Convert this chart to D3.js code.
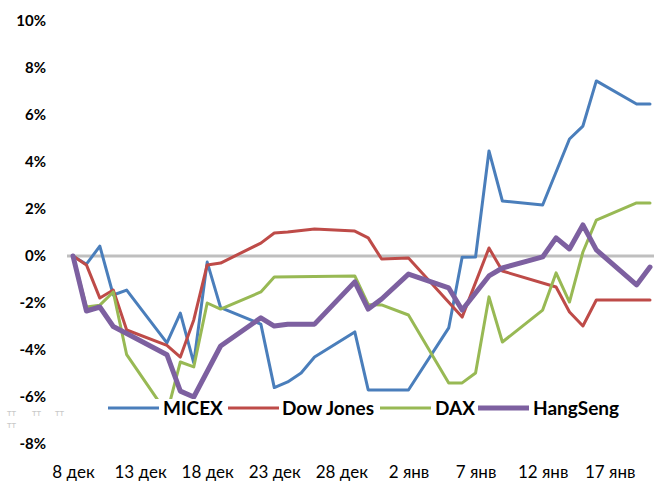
<!DOCTYPE html>
<html><head><meta charset="utf-8">
<script src="https://cdn.jsdelivr.net/npm/d3@7"></script>
<style>body{margin:0;background:#fff}svg{display:block}</style>
</head><body>
<svg id="c" width="654" height="484"></svg>
<script>
const seriesNames = ["MICEX", "Dow Jones", "DAX", "HangSeng"];
const seriesColors = ["#4A7EBB", "#BE4B48", "#98B954", "#7D60A0"];

const micexDates = ["2008-12-08","2008-12-09","2008-12-10","2008-12-11","2008-12-12","2008-12-15","2008-12-16","2008-12-17","2008-12-18","2008-12-19","2008-12-22","2008-12-23","2008-12-24","2008-12-25","2008-12-26","2008-12-29","2008-12-30","2008-12-31","2009-01-02","2009-01-05","2009-01-06","2009-01-07","2009-01-08","2009-01-09","2009-01-12","2009-01-14","2009-01-15","2009-01-16","2009-01-19","2009-01-20"];
const micexValues = [0,-0.35,0.42,-1.66,-1.45,-3.7,-2.43,-4.55,-0.26,-2.2,-2.9,-5.6,-5.36,-4.98,-4.3,-3.23,-5.7,-5.7,-5.7,-3.06,-0.05,-0.04,4.47,2.34,2.17,4.98,5.53,7.45,6.47,6.47];

const dowDates = ["2008-12-08","2008-12-09","2008-12-10","2008-12-11","2008-12-12","2008-12-15","2008-12-16","2008-12-17","2008-12-18","2008-12-19","2008-12-22","2008-12-23","2008-12-24","2008-12-26","2008-12-29","2008-12-30","2008-12-31","2009-01-02","2009-01-06","2009-01-08","2009-01-09","2009-01-13","2009-01-14","2009-01-15","2009-01-16","2009-01-19","2009-01-20"];
const dowValues = [0,-0.38,-1.79,-1.45,-3.15,-3.8,-4.3,-2.72,-0.38,-0.3,0.55,0.98,1.02,1.15,1.06,0.77,-0.13,-0.09,-2.6,0.34,-0.64,-1.32,-2.38,-2.98,-1.87,-1.87,-1.87];

const daxDates = ["2008-12-08","2008-12-09","2008-12-10","2008-12-11","2008-12-12","2008-12-15","2008-12-16","2008-12-17","2008-12-18","2008-12-19","2008-12-22","2008-12-23","2008-12-29","2008-12-30","2008-12-31","2009-01-02","2009-01-05","2009-01-06","2009-01-07","2009-01-08","2009-01-09","2009-01-12","2009-01-13","2009-01-14","2009-01-15","2009-01-16","2009-01-19","2009-01-20"];
const daxValues = [0,-2.17,-2.09,-1.53,-4.2,-6.7,-4.51,-4.72,-2.0,-2.26,-1.53,-0.89,-0.85,-2.06,-2.08,-2.51,-5.4,-5.4,-4.98,-1.74,-3.66,-2.3,-0.72,-1.96,0.17,1.53,2.26,2.26];

const hsDates = ["2008-12-08","2008-12-09","2008-12-10","2008-12-11","2008-12-12","2008-12-15","2008-12-16","2008-12-17","2008-12-19","2008-12-22","2008-12-23","2008-12-24","2008-12-26","2008-12-29","2008-12-30","2008-12-31","2009-01-02","2009-01-05","2009-01-06","2009-01-08","2009-01-09","2009-01-12","2009-01-13","2009-01-14","2009-01-15","2009-01-16","2009-01-19","2009-01-20"];
const hsValues = [0,-2.34,-2.17,-3.0,-3.3,-4.2,-5.75,-6.0,-3.83,-2.63,-2.98,-2.9,-2.9,-1.1,-2.26,-1.83,-0.77,-1.36,-2.3,-0.85,-0.51,-0.04,0.77,0.3,1.32,0.26,-1.23,-0.47];

const yTicks = [-8,-6,-4,-2,0,2,4,6,8,10];
const xTickDates = ["2008-12-08","2008-12-13","2008-12-18","2008-12-23","2008-12-28","2009-01-02","2009-01-07","2009-01-12","2009-01-17"];
const monthNames = ["янв","фев","мар","апр","май","июн","июл","авг","сен","окт","ноя","дек"];

const parse = d3.timeParse("%Y-%m-%d");
const allDates = [micexDates, dowDates, daxDates, hsDates];
const allValues = [micexValues, dowValues, daxValues, hsValues];
const widths = [3, 3, 3, 5];

const svg = d3.select("#c");
const x = d3.scaleTime().domain([parse("2008-12-08"), parse("2009-01-20")]).range([73, 650]);
const y = d3.scaleLinear().domain([-8, 10]).range([444, 21]);
const font = "Lato, Carlito, Calibri, sans-serif";

// zero line
svg.append("line").attr("x1", 67).attr("x2", 654).attr("y1", y(0)).attr("y2", y(0))
  .attr("stroke", "#BFBFBF").attr("stroke-width", 3);

// y axis labels
const yAxis = d3.axisLeft(y).tickValues(yTicks).tickSize(0).tickPadding(0)
  .tickFormat(d => d + "%");
const yg = svg.append("g").attr("transform", "translate(46,0)").call(yAxis);
yg.select(".domain").remove();
yg.selectAll("text").attr("font-family", font).attr("font-weight", "bold")
  .attr("font-size", 15).attr("fill", "#000");

// x axis labels
const xAxis = d3.axisBottom(x).tickValues(xTickDates.map(parse)).tickSize(0).tickPadding(0)
  .tickFormat(d => d.getDate() + " " + monthNames[d.getMonth()]);
const xg = svg.append("g").attr("transform", "translate(0,466)").call(xAxis);
xg.select(".domain").remove();
xg.selectAll("text").attr("font-family", font).attr("font-size", 17).attr("fill", "#000");

// lines
const line = d3.line().x(d => x(d[0])).y(d => y(d[1]));
allDates.forEach((ds, i) => {
  const data = ds.map((d, j) => [parse(d), allValues[i][j]]);
  svg.append("path").datum(data).attr("d", line).attr("fill", "none")
    .attr("stroke", seriesColors[i]).attr("stroke-width", widths[i])
    .attr("stroke-linejoin", "round").attr("stroke-linecap", "round");
});

// faint artefact glyphs
const ghost = [[7, 416], [32, 416], [55, 416], [7, 428]];
ghost.forEach(p => svg.append("text").attr("x", p[0]).attr("y", p[1]).text("тт")
  .attr("font-family", font).attr("font-size", 9).attr("fill", "#C8C8C8"));

// legend
const legendX = [108, 228, 380, 478];
const textX = [163, 282, 435, 533];
const lg = svg.append("g");
lg.append("rect").attr("x", 104).attr("y", 399).attr("width", 520).attr("height", 20).attr("fill", "#fff");
seriesNames.forEach((n, i) => {
  lg.append("line").attr("x1", legendX[i]).attr("x2", legendX[i] + 51)
    .attr("y1", 408).attr("y2", 408).attr("stroke", seriesColors[i]).attr("stroke-width", widths[i]);
  lg.append("text").attr("x", textX[i]).attr("y", 415).text(n)
    .attr("font-family", font).attr("font-weight", "bold").attr("font-size", 19).attr("fill", "#000");
});
</script>
</body></html>
